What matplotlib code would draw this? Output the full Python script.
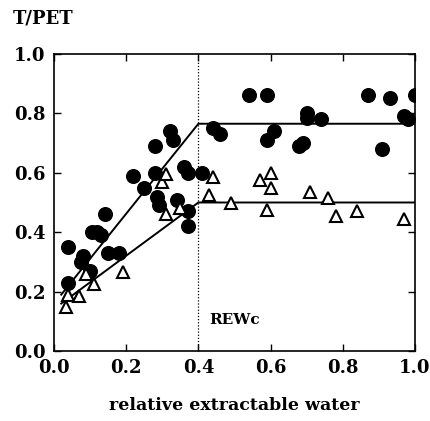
import numpy as np
import matplotlib.pyplot as plt

# gefüllte Kreise
circ_x = [0.04, 0.04, 0.075, 0.08, 0.10, 0.105, 0.12, 0.13, 0.14, 0.15, 0.18,
          0.22, 0.25, 0.28, 0.28, 0.285, 0.29, 0.32, 0.33, 0.34, 0.36, 0.37,
          0.37, 0.37, 0.41, 0.44, 0.46, 0.54, 0.59, 0.59, 0.61, 0.68, 0.69,
          0.70, 0.70, 0.74, 0.87, 0.91, 0.93, 0.97, 0.98, 1.0]
circ_y = [0.23, 0.35, 0.30, 0.32, 0.27, 0.40, 0.40, 0.39, 0.46, 0.33, 0.33,
          0.59, 0.55, 0.69, 0.60, 0.52, 0.49, 0.74, 0.71, 0.51, 0.62, 0.60,
          0.47, 0.42, 0.60, 0.75, 0.73, 0.86, 0.86, 0.71, 0.74, 0.69, 0.70,
          0.80, 0.785, 0.78, 0.86, 0.68, 0.85, 0.79, 0.78, 0.86]

# offene Dreiecke
tri_x = [0.033, 0.04, 0.07, 0.09, 0.11, 0.19, 0.30, 0.31, 0.31, 0.35, 0.43,
         0.44, 0.49, 0.57, 0.59, 0.60, 0.60, 0.71, 0.76, 0.78, 0.84, 0.97]
tri_y = [0.15, 0.19, 0.185, 0.26, 0.225, 0.265, 0.57, 0.595, 0.46, 0.48, 0.525,
         0.585, 0.50, 0.575, 0.475, 0.60, 0.55, 0.535, 0.515, 0.455, 0.47, 0.445]

# Modellgeraden (Knickpunkt bei REWc = 0.4)
line_x = [0.02, 0.4, 1.0]
upper_y = [0.19, 0.765, 0.765]
lower_y = [0.16, 0.50, 0.50]
rewc = 0.4

plt.rcParams['font.family'] = 'DejaVu Serif'
plt.rcParams['font.weight'] = 'bold'

fig = plt.figure(figsize=(4.3, 4.21), dpi=100)
ax = fig.add_axes([0.1256, 0.166, 0.8394, 0.706])

ax.plot(line_x, upper_y, color='black', lw=1.4, zorder=2)
ax.plot(line_x, lower_y, color='black', lw=1.4, zorder=2)
ax.axvline(rewc, color='black', lw=0.9, ls=(0, (1, 1.5)), zorder=1)

ax.plot(circ_x, circ_y, 'o', color='black', ms=9.8, zorder=3)
ax.plot(tri_x, tri_y, '^', mfc='white', mec='black', mew=1.5, ms=8.5, zorder=4)

ax.text(0.43, 0.09, 'REWc', fontsize=11, fontweight='bold')

ax.set_xlim(0, 1.0)
ax.set_ylim(0, 1.0)
ax.set_xticks(np.arange(0, 1.01, 0.2))
ax.set_yticks(np.arange(0, 1.01, 0.2))
ax.set_xticklabels(['%.1f' % v for v in np.arange(0, 1.01, 0.2)])
ax.set_yticklabels(['%.1f' % v for v in np.arange(0, 1.01, 0.2)])
ax.tick_params(direction='in', top=True, right=True, length=5, width=1,
               labelsize=13, pad=6)
for s in ax.spines.values():
    s.set_linewidth(1.2)

ax.set_xlabel('relative extractable water', fontsize=12.5, fontweight='bold',
              labelpad=14)
fig.text(0.03, 0.945, 'T/PET', fontsize=13, fontweight='bold')

fig.savefig('out.png', dpi=100)
